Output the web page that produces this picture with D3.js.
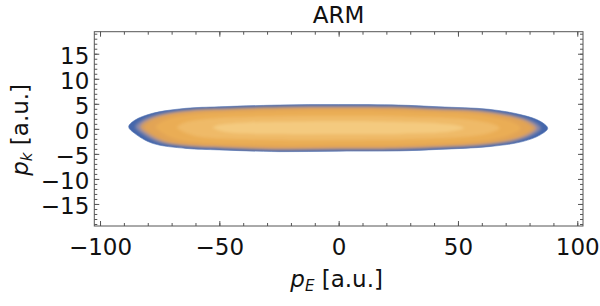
<!DOCTYPE html>
<html>
<head>
<meta charset="utf-8">
<script src="https://cdn.jsdelivr.net/npm/d3@7"></script>
<style>
  body { margin: 0; background: #fff; }
  text { font-family: "DejaVu Sans", sans-serif; fill: #111; }
</style>
</head>
<body>
<svg id="chart" width="600" height="306"></svg>
<script>
var width = 600, height = 306;
var fontSize = 23;

// axis ticks
var xMajor = [-100, -50, 0, 50, 100];
var xMinor = d3.range(-100, 101, 10);
var yMajor = [-15, -10, -5, 0, 5, 10, 15];
var yMinor = d3.range(-19, 20, 1);

// outer contour of the distribution
var edgeX     = [-88, -85.5, -78, -64, -50, -25, 0, 25, 42, 63, 77, 84.5, 87.6];
var edgeUpper = [0.4, 1.7, 3.1, 4.1, 4.4, 4.75, 4.85, 4.75, 4.4, 3.9, 2.75, 1.5, 0.1];
var edgeLower = [0.4, -0.9, -2.9, -3.9, -4.2, -4.55, -4.45, -4.4, -4.1, -3.55, -2.55, -1.2, 0.1];

// density levels: relative value and how far each level sits inside the edge
var levelValue   = [0.0, 0.2, 0.38, 0.52, 0.65, 0.8, 0.93];
var levelShrinkX = [1.0, 0.968, 0.945, 0.925, 0.87, 0.77, 0.6];
var levelShrinkY = [1.0, 0.95, 0.9, 0.86, 0.74, 0.52, 0.28];
var center = [0, 0.2];

var svg = d3.select("#chart");

var x = d3.scaleLinear().domain([-102.4, 102.4]).range([94.3, 583]);
var y = d3.scaleLinear().domain([-19.4, 19.4]).range([226, 31.7]);

var color = d3.scaleLinear()
  .domain([0, 0.2, 0.4, 0.6, 0.8, 1])
  .range(["#4466ab", "#8a88a6", "#d99f5e", "#e8a84f", "#efba68", "#f6d28c"])
  .interpolate(d3.interpolateRgb);

// contour outline as closed loop (upper left->right, lower right->left)
var outline = edgeX.map(function(d, i){ return [d, edgeUpper[i]]; })
  .concat(edgeX.slice(1, -1).map(function(d, i){ return [d, edgeLower[i + 1]]; }).reverse());

var line = d3.line()
  .x(function(d){ return x(d[0]); })
  .y(function(d){ return y(d[1]); })
  .curve(d3.curveCatmullRomClosed.alpha(0.5));

function levelPath(k){
  var pts = outline.map(function(p){
    return [center[0] + (p[0] - center[0]) * levelShrinkX[k],
            center[1] + (p[1] - center[1]) * levelShrinkY[k]];
  });
  return line(pts);
}

var defs = svg.append("defs");
defs.append("clipPath").attr("id", "edgeClip")
  .append("path").attr("d", levelPath(0));
defs.append("filter").attr("id", "soft")
  .attr("x", "-10%").attr("y", "-50%").attr("width", "120%").attr("height", "200%")
  .append("feGaussianBlur").attr("stdDeviation", 1.6);

// outer rim
svg.append("path")
  .attr("d", levelPath(0))
  .attr("fill", color(levelValue[0]))
  .attr("stroke", "#5677b6")
  .attr("stroke-width", 0.6);

var inner = svg.append("g")
  .attr("clip-path", "url(#edgeClip)")
  .append("g")
  .attr("filter", "url(#soft)");

inner.selectAll("path")
  .data(levelValue.slice(1))
  .enter()
  .append("path")
  .attr("d", function(d, i){ return levelPath(i + 1); })
  .attr("fill", function(d){ return color(d); });

// frame
svg.append("rect")
  .attr("x", x.range()[0]).attr("y", y.range()[1])
  .attr("width", x.range()[1] - x.range()[0])
  .attr("height", y.range()[0] - y.range()[1])
  .attr("fill", "none").attr("stroke", "#555").attr("stroke-width", 1);

function drawAxis(axis, tx, ty, values, size, labels, pad){
  var g = svg.append("g")
    .attr("transform", "translate(" + tx + "," + ty + ")")
    .call(axis.tickValues(values).tickSize(size).tickPadding(pad)
      .tickFormat(labels ? d3.format("") : ""));
  g.select(".domain").remove();
  g.selectAll("line").attr("stroke", "#555");
  g.selectAll("text").attr("font-size", fontSize + "px")
    .style("font-family", "DejaVu Sans, sans-serif")
    .attr("fill", "#111");
  return g;
}

var x0 = x.range()[0], x1 = x.range()[1], yb = y.range()[0], yt = y.range()[1];
// bottom
drawAxis(d3.axisBottom(x), 0, yb, xMinor, -3, false, 0);
var bottom = drawAxis(d3.axisBottom(x), 0, yb, xMajor, -5, true, 12);
bottom.selectAll("text").attr("dy", "0.72em");
// top
drawAxis(d3.axisTop(x), 0, yt, xMinor, -3, false, 0);
drawAxis(d3.axisTop(x), 0, yt, xMajor, -5, false, 0);
// left
drawAxis(d3.axisLeft(y), x0, 0, yMinor, -3, false, 0);
var left = drawAxis(d3.axisLeft(y), x0, 0, yMajor, -5, true, 5);
left.selectAll("text").attr("dy", "0.41em");
// right
drawAxis(d3.axisRight(y), x1, 0, yMinor, -3, false, 0);
drawAxis(d3.axisRight(y), x1, 0, yMajor, -5, false, 0);

// title
svg.append("text")
  .attr("x", (x0 + x1) / 2).attr("y", 23)
  .attr("text-anchor", "middle").attr("font-size", "23px")
  .text("ARM");

// x label
var xl = svg.append("text")
  .attr("x", (x0 + x1) / 2 - 2).attr("y", 287)
  .attr("text-anchor", "middle").attr("font-size", fontSize + "px");
xl.append("tspan").attr("font-style", "italic").text("p");
xl.append("tspan").attr("font-style", "italic").attr("font-size", "15px").attr("dy", "4").text("E");
xl.append("tspan").attr("dy", "-4").text(" [a.u.]");

// y label
var yl = svg.append("text")
  .attr("transform", "translate(28," + ((yt + yb) / 2 + 1) + ") rotate(-90)")
  .attr("text-anchor", "middle").attr("font-size", fontSize + "px");
yl.append("tspan").attr("font-style", "italic").text("p");
yl.append("tspan").attr("font-style", "italic").attr("font-size", "15px").attr("dy", "4").text("k");
yl.append("tspan").attr("dy", "-4").text(" [a.u.]");
</script>
</body>
</html>
